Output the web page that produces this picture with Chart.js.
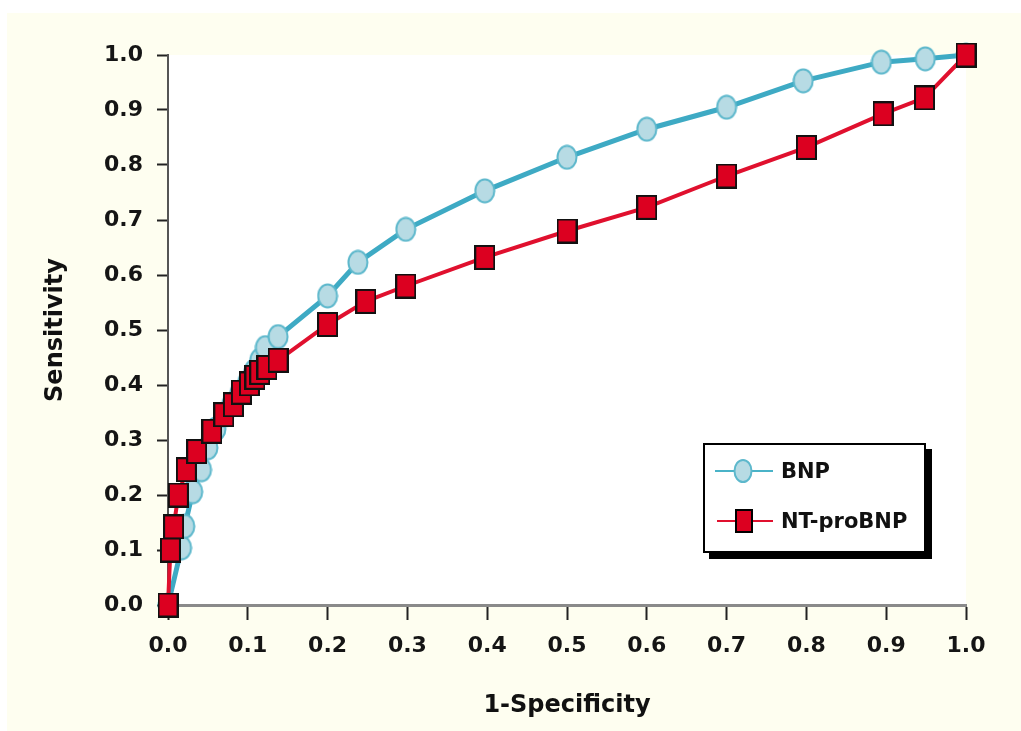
<!DOCTYPE html>
<html>
<head>
<meta charset="utf-8">
<script src="https://cdn.jsdelivr.net/npm/chart.js@4"></script>
<style>
  body { margin: 0; background: #fff; }
  #wrap { position: relative; width: 1021px; height: 731px; }
  #legend {
    position: absolute; left: 703px; top: 443px; width: 219px; height: 106px;
    border: 2px solid #000; background: #fff; box-shadow: 6px 6px 0 #000;
    font-family: "DejaVu Sans", sans-serif; font-weight: bold; font-size: 21px; color: #111;
  }
  .item { position: absolute; left: 10px; height: 30px; display: flex; align-items: center; }
  .item svg { margin-right: 6px; }
</style>
</head>
<body>
<div id="wrap">
  <canvas id="roc" width="1021" height="731"></canvas>
  <div id="legend">
    <div class="item" style="top: 11px;">
      <svg width="60" height="30"><line x1="0" y1="15" x2="58" y2="15" stroke="#4ab3c8" stroke-width="2"/><ellipse cx="28" cy="15" rx="8.5" ry="11" fill="#b7dbe4" stroke="#5db8cc" stroke-width="2"/></svg>
      <span>BNP</span>
    </div>
    <div class="item" style="top: 61px;">
      <svg width="60" height="30"><line x1="2" y1="15" x2="58" y2="15" stroke="#e0102e" stroke-width="2"/><rect x="21" y="4" width="16" height="22" fill="#dc0020" stroke="#000" stroke-width="2"/></svg>
      <span>NT-proBNP</span>
    </div>
  </div>
</div>
<script>
// ROC curves: 1-specificity (x) vs sensitivity (y)
const bnpFpr  = [0, 0.017, 0.021, 0.031, 0.042, 0.05, 0.06, 0.07, 0.08, 0.09, 0.1, 0.108, 0.115, 0.122, 0.138, 0.2, 0.238, 0.298, 0.397, 0.5, 0.6, 0.7, 0.796, 0.894, 0.949, 1.0];
const bnpSens = [0, 0.104, 0.143, 0.206, 0.246, 0.286, 0.32, 0.345, 0.365, 0.385, 0.405, 0.425, 0.445, 0.468, 0.488, 0.562, 0.623, 0.683, 0.753, 0.814, 0.865, 0.905, 0.953, 0.987, 0.993, 1.0];

const ntFpr  = [0, 0.003, 0.007, 0.013, 0.023, 0.036, 0.055, 0.07, 0.082, 0.092, 0.102, 0.109, 0.115, 0.124, 0.138, 0.2, 0.248, 0.298, 0.397, 0.5, 0.6, 0.7, 0.8, 0.896, 0.948, 1.0];
const ntSens = [0, 0.1, 0.142, 0.2, 0.246, 0.279, 0.316, 0.346, 0.364, 0.387, 0.402, 0.414, 0.423, 0.432, 0.445, 0.51, 0.552, 0.58, 0.632, 0.68, 0.723, 0.78, 0.832, 0.893, 0.922, 1.0];

const xTicks = [0, 0.1, 0.2, 0.3, 0.4, 0.5, 0.6, 0.7, 0.8, 0.9, 1.0];

function toPoints(xs, ys) {
    return xs.map((x, i) => ({ x: x, y: ys[i] }));
}

// marker images (the source picture is slightly squeezed, so marks are taller than wide)
function ellipseMarker() {
    const c = document.createElement('canvas');
    c.width = 22; c.height = 26;
    const g = c.getContext('2d');
    g.beginPath();
    g.ellipse(11, 13, 9.5, 11.5, 0, 0, Math.PI * 2);
    g.fillStyle = '#b7dbe4';
    g.fill();
    g.lineWidth = 2;
    g.strokeStyle = '#5db8cc';
    g.stroke();
    return c;
}

function squareMarker() {
    const c = document.createElement('canvas');
    c.width = 21; c.height = 25;
    const g = c.getContext('2d');
    g.fillStyle = '#dc0020';
    g.fillRect(1, 1, 19, 23);
    g.lineWidth = 2;
    g.strokeStyle = '#111';
    g.strokeRect(1, 1, 19, 23);
    return c;
}

const background = {
    id: 'background',
    beforeDraw(chart) {
        const { ctx, chartArea } = chart;
        ctx.save();
        ctx.fillStyle = '#ffffff';
        ctx.fillRect(0, 0, chart.width, chart.height);
        ctx.fillStyle = '#fefef0';
        ctx.fillRect(7, 13, chart.width - 7, chart.height - 13);
        ctx.fillStyle = '#ffffff';
        ctx.fillRect(chartArea.left, chartArea.top, chartArea.right - chartArea.left, chartArea.bottom - chartArea.top);
        ctx.restore();
    }
};

const tickFont = { family: 'DejaVu Sans', size: 22, weight: 'bold' };
const titleFont = { family: 'DejaVu Sans', size: 24, weight: 'bold' };

new Chart(document.getElementById('roc'), {
    type: 'line',
    data: {
        datasets: [
            {
                label: 'BNP',
                data: toPoints(bnpFpr, bnpSens),
                borderColor: '#3eaac4',
                borderWidth: 5,
                pointStyle: ellipseMarker(),
                order: 2,
                clip: false,
                tension: 0
            },
            {
                label: 'NT-proBNP',
                data: toPoints(ntFpr, ntSens),
                borderColor: '#e0102e',
                borderWidth: 4,
                pointStyle: squareMarker(),
                order: 1,
                clip: false,
                tension: 0
            }
        ]
    },
    options: {
        responsive: false,
        animation: false,
        devicePixelRatio: 1,
        layout: { padding: { top: 55, right: 55, left: 0, bottom: 0 } },
        plugins: { legend: { display: false }, tooltip: { enabled: false } },
        scales: {
            x: {
                type: 'linear', min: 0, max: 1,
                afterFit: (s) => { s.height = 126; },
                afterBuildTicks: (s) => { s.ticks = xTicks.map(v => ({ value: v })); },
                ticks: { callback: v => v.toFixed(1), font: tickFont, color: '#151515', padding: 13, maxRotation: 0, autoSkip: false },
                grid: { drawOnChartArea: false, drawTicks: true, tickLength: 15, tickColor: '#222', tickWidth: 2 },
                border: { display: true, color: '#8a8a8a', width: 3 },
                title: { display: true, text: '1-Specificity', font: titleFont, color: '#111', padding: { top: 0, bottom: 11 } }
            },
            y: {
                type: 'linear', min: 0, max: 1,
                afterFit: (s) => { s.width = 168; },
                afterBuildTicks: (s) => { s.ticks = xTicks.map(v => ({ value: v })); },
                ticks: { callback: v => v.toFixed(1), font: tickFont, color: '#151515', padding: 14 },
                grid: { drawOnChartArea: false, drawTicks: true, tickLength: 11, tickColor: '#222', tickWidth: 2 },
                border: { display: true, color: '#555', width: 2 },
                title: { display: true, text: 'Sensitivity', font: titleFont, color: '#111', padding: { top: 41, bottom: 0 } }
            }
        }
    },
    plugins: [background]
});
</script>
</body>
</html>
